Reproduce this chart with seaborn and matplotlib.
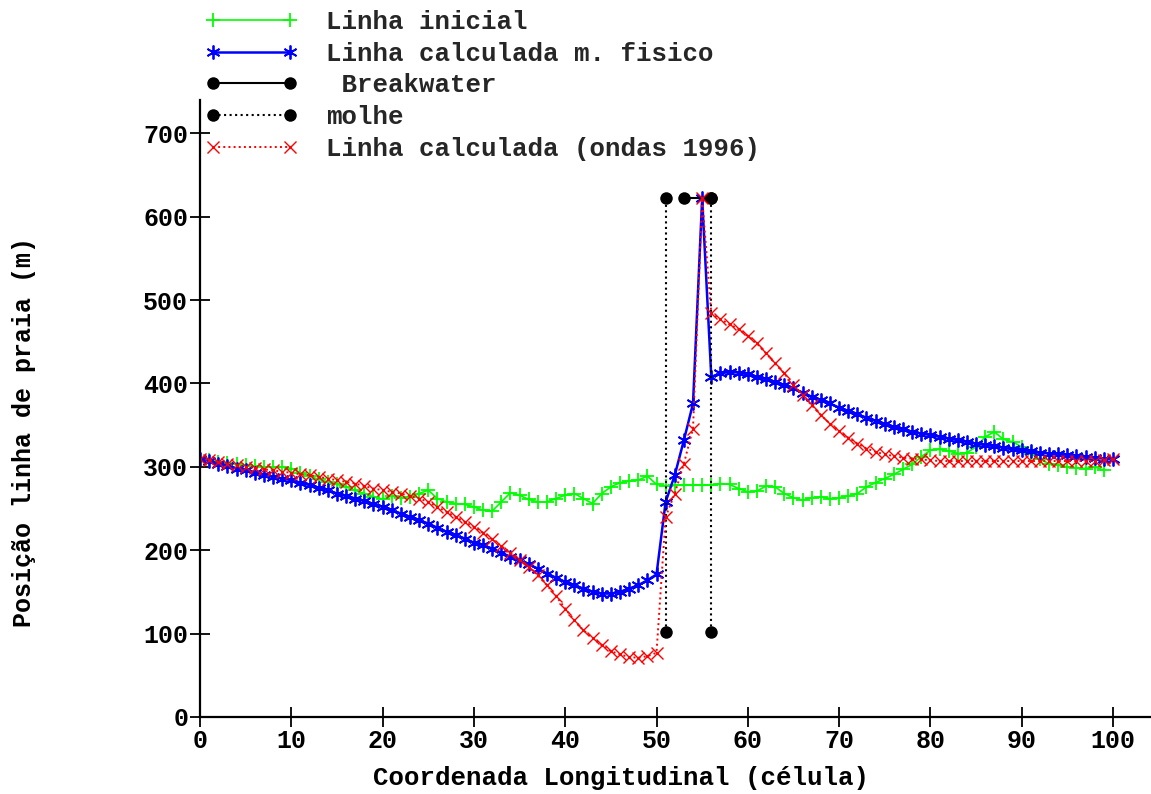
import matplotlib
matplotlib.use("Agg")
import matplotlib.pyplot as plt
import pandas as pd
import seaborn as sns

# Shoreline position along the coast (cell index -> metres)
cells_inicial = list(range(0, 100))
linha_inicial = [
    310, 308, 306, 305, 303, 302, 301, 300, 300, 300,
    298, 293, 289, 285, 282, 279, 276, 272, 268, 264,
    261, 265, 263, 264, 268, 272, 262, 258, 256, 255,
    252, 248, 247, 258, 269, 266, 261, 258, 258, 262,
    266, 268, 262, 256, 268, 276, 281, 283, 284, 289,
    279, 277, 278, 278, 278, 278, 278, 280, 279, 274,
    270, 271, 277, 276, 268, 263, 260, 263, 264, 262,
    263, 265, 268, 276, 281, 286, 291, 297, 303, 312,
    320, 321, 319, 316, 317, 324, 336, 342, 333, 330,
    324, 316, 309, 304, 302, 300, 299, 298, 300, 296,
]

cells_calc = list(range(0, 101))
linha_fisico = [
    310, 307, 304, 301, 298, 296, 293, 290, 288, 286,
    284, 281, 278, 275, 272, 268, 265, 262, 259, 255,
    252, 248, 244, 240, 236, 232, 227, 222, 218, 214,
    209, 206, 202, 197, 192, 188, 183, 178, 172, 167,
    162, 158, 154, 150, 148, 148, 150, 154, 158, 164,
    171, 258, 290, 332, 376, 622, 408, 412, 414, 413,
    411, 408, 405, 402, 398, 394, 389, 384, 380, 376,
    371, 367, 363, 359, 355, 351, 348, 345, 342, 340,
    338, 336, 334, 332, 330, 328, 326, 325, 323, 321,
    320, 319, 317, 316, 315, 314, 313, 312, 311, 310,
    309,
]
linha_1996 = [
    310, 308, 306, 304, 302, 300, 299, 297, 296, 294,
    293, 291, 290, 288, 286, 284, 282, 280, 277, 274,
    272, 270, 268, 265, 262, 258, 252, 246, 240, 234,
    228, 221, 213, 205, 197, 188, 180, 170, 158, 145,
    130, 116, 104, 95, 86, 79, 75, 72, 71, 73,
    77, 240, 268, 304, 346, 622, 484, 477, 471, 465,
    457, 448, 436, 424, 412, 398, 386, 374, 362, 352,
    343, 335, 328, 322, 318, 315, 313, 311, 310, 309,
    308, 307, 307, 307, 307, 307, 307, 307, 307, 307,
    307, 307, 307, 307, 307, 307, 307, 307, 307, 308,
    309,
]

# Structures
breakwater_x = [53, 56]
breakwater_y = [622, 622]
molhe_x = [51, 51, 56, 56]
molhe_y = [102, 622, 102, 622]
molhe_seg = [1, 1, 2, 2]

x_ticks = list(range(0, 101, 10))
y_ticks = list(range(0, 701, 100))

df_ini = pd.DataFrame({"celula": cells_inicial, "pos": linha_inicial})
df_fis = pd.DataFrame({"celula": cells_calc, "pos": linha_fisico})
df_96 = pd.DataFrame({"celula": cells_calc, "pos": linha_1996})
df_bw = pd.DataFrame({"celula": breakwater_x, "pos": breakwater_y})
df_mo = pd.DataFrame({"celula": molhe_x, "pos": molhe_y, "seg": molhe_seg})

sns.set_theme(style="white")
plt.rcParams["font.family"] = ["Liberation Mono", "DejaVu Sans Mono"]
plt.rcParams["font.weight"] = "bold"

W, H = 1151, 794
fig = plt.figure(figsize=(W / 100, H / 100), dpi=100)
ax = fig.add_axes([200 / W, 1 - 717 / H, (W - 200) / W, (717 - 100) / H])

GREEN, BLUE, RED, BLACK = "#00ff00", "#0000ff", "#ff0000", "#000000"

sns.lineplot(data=df_ini, x="celula", y="pos", ax=ax, color=GREEN,
             linewidth=1.2, marker="+", markersize=10, markeredgewidth=1.3,
             markeredgecolor=GREEN, label="Linha inicial", legend=False)
sns.lineplot(data=df_fis, x="celula", y="pos", ax=ax, color=BLUE,
             linewidth=1.8, marker=(6, 2, 0), markersize=10, markeredgewidth=1.3,
             markeredgecolor=BLUE, label="Linha calculada m. fisico", legend=False)
sns.lineplot(data=df_bw, x="celula", y="pos", ax=ax, color=BLACK,
             linewidth=1.5, marker="o", markersize=9, markeredgewidth=0,
             markerfacecolor=BLACK, markeredgecolor=BLACK,
             label=" Breakwater", legend=False)
sns.lineplot(data=df_mo, x="celula", y="pos", units="seg", estimator=None, ax=ax,
             color=BLACK, linewidth=1.5, linestyle=":", marker="o", markersize=9,
             markeredgewidth=0, markerfacecolor=BLACK, markeredgecolor=BLACK,
             label="molhe", legend=False)
sns.lineplot(data=df_96, x="celula", y="pos", ax=ax, color=RED,
             linewidth=1.4, linestyle=":", marker="x", markersize=9,
             markeredgewidth=1.0, markeredgecolor=RED,
             label="Linha calculada (ondas 1996)", legend=False)

ax.set_xlim(0, (W - 200) / 9.13)
ax.set_ylim(0, 740)
ax.set_xticks(x_ticks)
ax.set_yticks(y_ticks)
sns.despine(ax=ax)
for side in ("left", "bottom"):
    ax.spines[side].set_linewidth(1.6)
    ax.spines[side].set_color(BLACK)
ax.tick_params(axis="both", which="major", bottom=True, left=True,
               direction="inout", length=15, width=1.3, color=BLACK,
               labelsize=18, pad=1, labelcolor=BLACK)
for lab in ax.get_xticklabels() + ax.get_yticklabels():
    lab.set_fontweight("bold")

ax.set_xlabel("Coordenada Longitudinal (célula)", fontsize=18.5, fontweight="bold",
              color=BLACK)
ax.set_ylabel("Posição linha de praia (m)", fontsize=18, fontweight="bold",
              color=BLACK)
ax.xaxis.set_label_coords(0.443, -0.08)
ax.yaxis.set_label_coords(-0.172, 0.462)

# De-duplicate legend entries (the jetty is drawn as two segments)
handles, labels = ax.get_legend_handles_labels()
seen = {}
for h, l in zip(handles, labels):
    if l not in seen:
        seen[l] = h
fig.legend(list(seen.values()), list(seen.keys()), loc="upper left",
           bbox_to_anchor=(205 / W, 1 - 10 / H), frameon=False,
           fontsize=18.5, handlelength=3.6, handletextpad=1.1, numpoints=2,
           labelspacing=0.3, borderpad=0, borderaxespad=0)

fig.savefig("out.png", dpi=100, facecolor="white")
